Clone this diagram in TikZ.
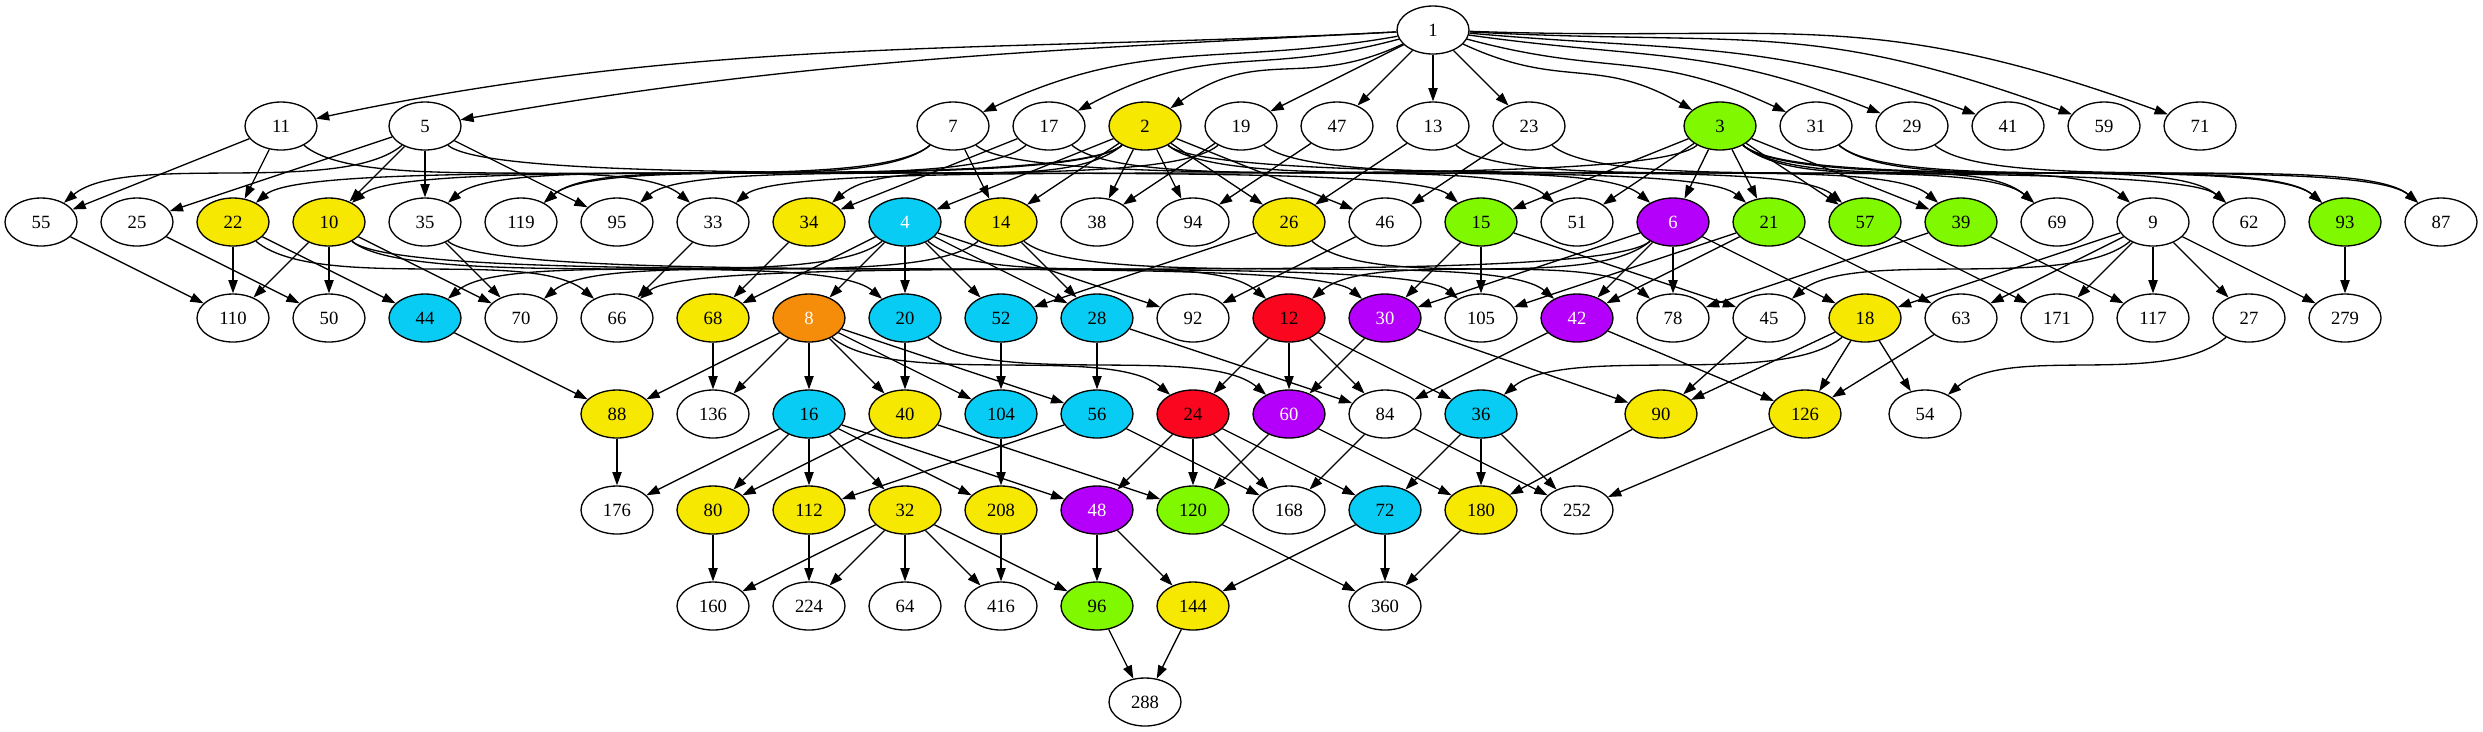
\documentclass[tikz,border=0pt]{standalone}
\usepackage{fontspec}
\setmainfont{Liberation Serif}
\usetikzlibrary{arrows.meta,shapes.geometric}

\definecolor{gvyellow}{RGB}{246,232,0}
\definecolor{gvcyan}{RGB}{8,204,244}
\definecolor{gvgreen}{RGB}{128,248,0}
\definecolor{gvpurple}{RGB}{180,0,250}
\definecolor{gvred}{RGB}{250,6,30}
\definecolor{gvorange}{RGB}{245,140,10}

\begin{document}
\begin{tikzpicture}[x=0.25pt, y=0.25pt, >={Triangle[length=3.3pt,width=2.3pt]}]

        \def\rsep{96}           % vertical distance between the ranks
        \def\csep{96}           % horizontal distance between neighbours
        \def\ytop{30}           % centre of the upper rank
        \tikzstyle{num}=[ellipse,draw=black,line width=0.33pt,minimum width=18pt,minimum height=12pt,inner sep=0pt,font=\fontsize{4.67}{5}\selectfont]
        \tikzstyle{link}=[->,line width=0.33pt]
        \tikzstyle{cW}=[fill=white]
        \tikzstyle{cY}=[fill=gvyellow]
        \tikzstyle{cC}=[fill=gvcyan]
        \tikzstyle{cCw}=[fill=gvcyan,text=white]
        \tikzstyle{cG}=[fill=gvgreen]
        \tikzstyle{cP}=[fill=gvpurple,text=white]
        \tikzstyle{cR}=[fill=gvred]
        \tikzstyle{cO}=[fill=gvorange,text=white]
        \tikzset{
            sR/.style={out=-40,in=140,distance=20pt},
            sL/.style={out=-140,in=40,distance=20pt}
        }

        \useasboundingbox (0,0) rectangle (2483,-731);

        % Draw the root
            \node[num,cW] (n-1) at (1433,-\ytop) {1};
        % Draw the two ranks that sit on the full grid
            \foreach \v/\c [count=\k from 0] in {55/cW,25/cW,22/cY,10/cY,35/cW,119/cW,95/cW,33/cW,34/cY,4/cCw,14/cY,38/cW,94/cW,26/cY,46/cW,15/cG,51/cW,6/cP,21/cG,57/cG,39/cG,69/cW,9/cW,62/cW,93/cG,87/cW}
                \node[num,\c] (n-\v) at (41+\k*\csep,-\ytop-2*\rsep) {\v};
            \foreach \v/\c [count=\k from 0] in {110/cW,50/cW,44/cC,70/cW,66/cW,68/cY,8/cO,20/cC,52/cC,28/cC,92/cW,12/cR,30/cP,105/cW,42/cP,78/cW,45/cW,18/cY,63/cW,171/cW,117/cW,27/cW,279/cW}
                \node[num,\c] (n-\v) at (233+\k*\csep,-\ytop-3*\rsep) {\v};
        % Draw the other ranks
            \foreach \v/\x/\r/\c in {11/281/1/cW,5/425/1/cW,7/953/1/cW,17/1049/1/cW,2/1145/1/cY,19/1241/1/cW,47/1337/1/cW,13/1433/1/cW,23/1529/1/cW,3/1720/1/cG,31/1816/1/cW,29/1912/1/cW,41/2008/1/cW,59/2104/1/cW,71/2200/1/cW,
                88/617/4/cY,136/713/4/cW,16/809/4/cC,40/905/4/cY,104/1001/4/cC,56/1097/4/cC,24/1193/4/cR,60/1289/4/cP,84/1385/4/cW,36/1481/4/cC,90/1661/4/cY,126/1805/4/cY,54/1925/4/cW,
                176/617/5/cW,80/713/5/cY,112/809/5/cY,32/905/5/cY,208/1001/5/cY,48/1097/5/cP,120/1193/5/cG,168/1289/5/cW,72/1385/5/cC,180/1481/5/cY,252/1577/5/cW,
                160/713/6/cW,224/809/6/cW,64/905/6/cW,416/1001/6/cW,96/1097/6/cG,144/1193/6/cY,360/1385/6/cW,
                288/1145/7/cW}
                \node[num,\c] (n-\v) at (\x,-\ytop-\r*\rsep) {\v};

        % Connect the root with the primes far away
            \foreach \b/\o/\i/\d in {11/183/12/100,5/183/10/87.5,7/190/25/45,17/195/28/37.5,2/205/35/27.5,
                3/-25/150/27.5,31/-15/155/37.5,29/-8/158/45,41/-5/160/55,59/-3/160/70,71/-2/160/80}
                \draw[link] (n-1) to[out=\o,in=\i,distance=\d pt] (n-\b);
        % Short connections
            \foreach \a/\b in {1/19,1/47,1/13,1/23,
                11/55,11/22,5/25,5/10,5/35,5/95,7/14,17/34,2/4,2/14,2/38,2/94,2/26,2/46,19/38,47/94,13/26,23/46,3/15,3/51,3/6,3/21,3/57,3/39,
                55/110,25/50,22/110,22/44,10/110,10/50,10/70,35/70,33/66,34/68,4/68,4/8,4/20,4/52,4/28,4/92,14/28,26/52,46/92,15/30,15/45,15/105,6/30,6/42,6/78,6/18,21/42,21/105,21/63,57/171,39/78,39/117,9/18,9/63,9/171,9/117,9/27,9/279,93/279,
                44/88,68/136,8/88,8/136,8/16,8/40,8/104,8/56,20/40,52/104,28/56,28/84,12/24,12/60,12/84,12/36,30/60,30/90,42/84,42/126,45/90,18/90,18/126,18/54,63/126,
                88/176,16/176,16/80,16/112,16/32,16/208,16/48,40/80,40/120,104/208,56/112,56/168,24/48,24/120,24/168,24/72,60/120,60/180,84/168,84/252,36/72,36/180,36/252,90/180,126/252,
                80/160,112/224,32/160,32/224,32/64,32/416,32/96,208/416,48/96,48/144,120/360,72/144,72/360,180/360,
                96/288,144/288}
                \draw[link] (n-\a) -- (n-\b);
        % Long connections to the right
            \foreach \a/\b in {11/33,5/15,7/21,17/51,2/6,2/62,19/57,13/39,23/69,3/69,3/9,3/93,3/87,31/62,31/93,29/87,
                22/66,10/20,10/30,35/105,4/12,14/42,26/78,8/24,20/60}
                \draw[link] (n-\a) to[sR] (n-\b);
        % Long connections to the left
            \foreach \a/\b in {5/55,7/35,7/119,17/119,2/22,2/10,2/34,19/95,3/33,4/44,14/70,6/66,6/12,9/45,18/36,27/54}
                \draw[link] (n-\a) to[sL] (n-\b);

\end{tikzpicture}
\end{document}
